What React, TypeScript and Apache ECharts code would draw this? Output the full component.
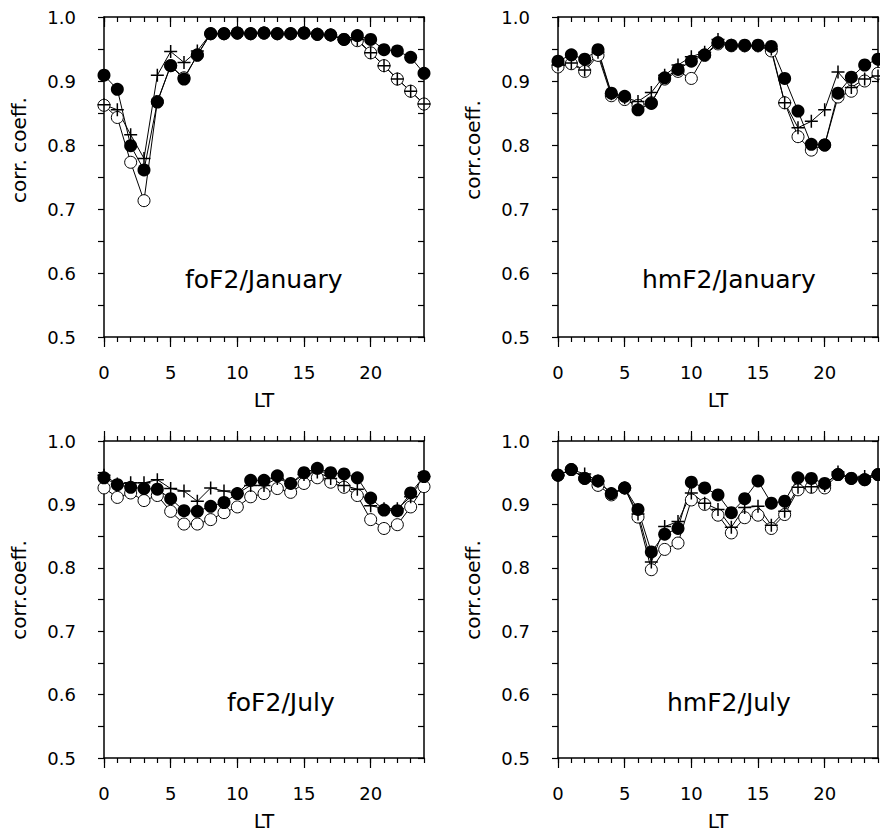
import React, { useEffect, useRef } from 'react';
import * as echarts from 'echarts';

// Local time (hours)
const hours = [0, 1, 2, 3, 4, 5, 6, 7, 8, 9, 10, 11, 12, 13, 14, 15, 16, 17, 18, 19, 20, 21, 22, 23, 24];
const xTickLabels = [0, 5, 10, 15, 20];
const yTickLabels = [0.5, 0.6, 0.7, 0.8, 0.9, 1.0];

// foF2 / January
const foF2JanFilled = [0.909, 0.887, 0.799, 0.761, 0.867, 0.924, 0.903, 0.941, 0.974, 0.974, 0.975, 0.974, 0.975, 0.974, 0.974, 0.975, 0.973, 0.972, 0.965, 0.971, 0.965, 0.949, 0.947, 0.937, 0.912];
const foF2JanOpen = [0.862, 0.843, 0.773, 0.713, 0.868, 0.924, 0.905, 0.940, 0.974, 0.974, 0.975, 0.974, 0.975, 0.974, 0.974, 0.975, 0.973, 0.972, 0.965, 0.963, 0.944, 0.924, 0.903, 0.884, 0.864];
const foF2JanCross = [0.863, 0.855, 0.816, 0.779, 0.909, 0.946, 0.929, 0.947, 0.974, 0.974, 0.975, 0.974, 0.975, 0.974, 0.974, 0.975, 0.973, 0.972, 0.965, 0.965, 0.944, 0.924, 0.903, 0.884, 0.864];

// hmF2 / January
const hmF2JanFilled = [0.931, 0.941, 0.934, 0.949, 0.881, 0.876, 0.855, 0.865, 0.905, 0.918, 0.931, 0.941, 0.960, 0.956, 0.956, 0.956, 0.954, 0.904, 0.853, 0.801, 0.800, 0.881, 0.906, 0.925, 0.934];
const hmF2JanOpen = [0.922, 0.927, 0.915, 0.940, 0.877, 0.871, 0.862, 0.866, 0.903, 0.915, 0.904, 0.940, 0.958, 0.955, 0.955, 0.955, 0.947, 0.866, 0.813, 0.792, 0.800, 0.875, 0.884, 0.900, 0.912];
const hmF2JanCross = [0.925, 0.928, 0.917, 0.945, 0.880, 0.874, 0.868, 0.882, 0.909, 0.925, 0.938, 0.945, 0.965, 0.956, 0.955, 0.955, 0.950, 0.866, 0.827, 0.837, 0.855, 0.914, 0.890, 0.903, 0.908];

// foF2 / July
const foF2JulFilled = [0.942, 0.931, 0.927, 0.925, 0.924, 0.909, 0.890, 0.889, 0.897, 0.903, 0.917, 0.938, 0.938, 0.945, 0.933, 0.950, 0.957, 0.950, 0.948, 0.942, 0.910, 0.891, 0.890, 0.918, 0.944];
const foF2JulOpen = [0.926, 0.911, 0.918, 0.906, 0.914, 0.889, 0.869, 0.869, 0.876, 0.887, 0.896, 0.912, 0.917, 0.925, 0.919, 0.933, 0.942, 0.935, 0.927, 0.914, 0.876, 0.862, 0.868, 0.896, 0.928];
const foF2JulCross = [0.946, 0.932, 0.934, 0.934, 0.939, 0.925, 0.921, 0.905, 0.926, 0.921, 0.917, 0.930, 0.930, 0.941, 0.933, 0.947, 0.951, 0.941, 0.930, 0.924, 0.898, 0.893, 0.893, 0.912, 0.944];

// hmF2 / July
const hmF2JulFilled = [0.946, 0.955, 0.941, 0.937, 0.917, 0.926, 0.892, 0.825, 0.853, 0.862, 0.935, 0.926, 0.915, 0.887, 0.909, 0.937, 0.902, 0.905, 0.942, 0.941, 0.933, 0.947, 0.941, 0.939, 0.947];
const hmF2JulOpen = [0.946, 0.955, 0.941, 0.930, 0.915, 0.926, 0.880, 0.797, 0.829, 0.839, 0.907, 0.900, 0.883, 0.855, 0.879, 0.883, 0.862, 0.884, 0.923, 0.927, 0.926, 0.947, 0.941, 0.939, 0.947];
const hmF2JulCross = [0.946, 0.955, 0.948, 0.937, 0.917, 0.926, 0.885, 0.809, 0.865, 0.873, 0.918, 0.902, 0.892, 0.864, 0.895, 0.897, 0.867, 0.889, 0.927, 0.928, 0.930, 0.951, 0.941, 0.944, 0.947];

const panelTitles = ['foF2/January', 'hmF2/January', 'foF2/July', 'hmF2/July'];
const yNames = ['corr. coeff.', 'corr.coeff.', 'corr.coeff.', 'corr.coeff.'];

const FONT = '"DejaVu Sans", "Liberation Sans", Arial, sans-serif';
const BLACK = '#000';

const layouts = [
  { left: 104, top: 17, height: 320, topTickInside: true, titleX: 185, titleY: 279, nameX: 19, nameY: 150 },
  { left: 558, top: 17, height: 320, topTickInside: true, titleX: 642, titleY: 279, nameX: 473, nameY: 150 },
  { left: 104, top: 441, height: 317, topTickInside: false, titleX: 227, titleY: 702, nameX: 19, nameY: 590 },
  { left: 558, top: 441, height: 317, topTickInside: false, titleX: 667, titleY: 702, nameX: 473, nameY: 590 },
];
const PANEL_W = 320;

const seriesSets = [
  [foF2JanOpen, foF2JanFilled, foF2JanCross],
  [hmF2JanOpen, hmF2JanFilled, hmF2JanCross],
  [foF2JulOpen, foF2JulFilled, foF2JulCross],
  [hmF2JulOpen, hmF2JulFilled, hmF2JulCross],
];

function buildOption() {
  const lineStyle = { color: BLACK, width: 1.5 };
  const tickLine = { color: BLACK, width: 1.2 };
  const grids: any[] = [];
  const xAxes: any[] = [];
  const yAxes: any[] = [];
  const series: any[] = [];
  const graphics: any[] = [];

  [0, 1].forEach(() => {
    layouts.forEach((p) => {
      grids.push({ left: p.left, top: p.top, width: PANEL_W, height: p.height, containLabel: false, outerBoundsMode: 'none' });
    });
  });

  layouts.forEach((p, g) => {
    xAxes.push({
      type: 'value', gridIndex: g, position: 'bottom', min: 0, max: 24, interval: 1,
      axisLine: { show: true, onZero: false, lineStyle },
      axisTick: { show: true, inside: false, length: 5, lineStyle: tickLine },
      axisLabel: {
        show: true, color: BLACK, fontFamily: FONT, fontSize: 18, margin: 26,
        formatter: (v: number) => (xTickLabels.indexOf(Math.round(v)) >= 0 && Math.abs(v - Math.round(v)) < 1e-6 ? String(Math.round(v)) : ''),
      },
      splitLine: { show: false },
      name: 'LT', nameLocation: 'middle', nameGap: 53,
      nameTextStyle: { color: BLACK, fontFamily: FONT, fontSize: 20 },
    });
    xAxes.push({
      type: 'value', gridIndex: g, position: 'top', min: 0, max: 24, interval: 1,
      axisLine: { show: true, onZero: false, lineStyle },
      axisTick: { show: true, inside: p.topTickInside, length: 5, lineStyle: tickLine },
      axisLabel: { show: false },
      splitLine: { show: false },
    });
    yAxes.push({
      type: 'value', gridIndex: g, position: 'left', min: 0.5, max: 1.0, interval: 0.05,
      axisLine: { show: true, onZero: false, lineStyle },
      axisTick: { show: true, inside: false, length: 6, lineStyle: tickLine },
      axisLabel: {
        show: true, color: BLACK, fontFamily: FONT, fontSize: 18, margin: 28,
        formatter: (v: number) => {
          const r = Math.round(v * 100) / 100;
          return yTickLabels.some((t) => Math.abs(t - r) < 1e-6) ? r.toFixed(1) : '';
        },
      },
      splitLine: { show: false },
    });
    yAxes.push({
      type: 'value', gridIndex: g, position: 'right', min: 0.5, max: 1.0, interval: 0.05,
      axisLine: { show: true, onZero: false, lineStyle },
      axisTick: { show: true, inside: true, length: 6, lineStyle: tickLine },
      axisLabel: { show: false },
      splitLine: { show: false },
    });
  });

  layouts.forEach((p, g) => {
    // overlay axes carrying the longer major ticks every 5 h
    xAxes.push({
      type: 'value', gridIndex: 4 + g, position: 'bottom', min: 0, max: 24, interval: 5,
      axisLine: { show: false },
      axisTick: { show: true, inside: false, length: 10, customValues: xTickLabels, lineStyle: tickLine },
      axisLabel: { show: false },
      splitLine: { show: false },
    });
    xAxes.push({
      type: 'value', gridIndex: 4 + g, position: 'top', min: 0, max: 24, interval: 5,
      axisLine: { show: false },
      axisTick: { show: true, inside: p.topTickInside, length: 10, customValues: xTickLabels, lineStyle: tickLine },
      axisLabel: { show: false },
      splitLine: { show: false },
    });
    yAxes.push({ type: 'value', gridIndex: 4 + g, min: 0.5, max: 1.0, show: false });
  });

  seriesSets.forEach((set, g) => {
    const [openArr, filledArr, crossArr] = set;
    series.push({
      type: 'line', xAxisIndex: 2 * g, yAxisIndex: 2 * g, clip: false,
      data: hours.map((h, i) => [h, openArr[i]]),
      symbol: 'circle', symbolSize: 12,
      lineStyle: { color: BLACK, width: 1 },
      itemStyle: { color: '#fff', borderColor: BLACK, borderWidth: 1 },
    });
    series.push({
      type: 'line', xAxisIndex: 2 * g, yAxisIndex: 2 * g, clip: false,
      data: hours.map((h, i) => [h, filledArr[i]]),
      symbol: 'circle', symbolSize: 13,
      lineStyle: { color: BLACK, width: 1 },
      itemStyle: { color: BLACK, borderColor: BLACK, borderWidth: 0 },
    });
    series.push({
      type: 'line', xAxisIndex: 2 * g, yAxisIndex: 2 * g, clip: false,
      data: hours.map((h, i) => [h, crossArr[i]]),
      symbol: 'path://M5 0L5 10M0 5L10 5', symbolSize: 13,
      lineStyle: { color: BLACK, width: 1 },
      itemStyle: { color: BLACK, borderColor: BLACK, borderWidth: 1.5 },
    });
  });

  layouts.forEach((p, g) => {
    graphics.push({
      type: 'text', x: p.titleX, y: p.titleY,
      style: { text: panelTitles[g], font: `25px ${FONT}`, fill: BLACK, align: 'left', verticalAlign: 'middle' },
    });
    graphics.push({
      type: 'text', x: p.nameX, y: p.nameY, rotation: Math.PI / 2,
      style: { text: yNames[g], font: `20px ${FONT}`, fill: BLACK, align: 'center', verticalAlign: 'middle' },
    });
  });

  return {
    animation: false,
    backgroundColor: '#fff',
    grid: grids,
    xAxis: xAxes,
    yAxis: yAxes,
    series,
    graphic: graphics,
  };
}

export default function App() {
  const ref = useRef<HTMLDivElement>(null);
  useEffect(() => {
    if (!ref.current) return;
    const chart = echarts.init(ref.current, undefined, { renderer: 'svg' });
    chart.setOption(buildOption() as any);
    return () => chart.dispose();
  }, []);
  return <div ref={ref} style={{ position: 'absolute', left: 0, top: 0, width: 880, height: 832, background: '#fff' }} />;
}
